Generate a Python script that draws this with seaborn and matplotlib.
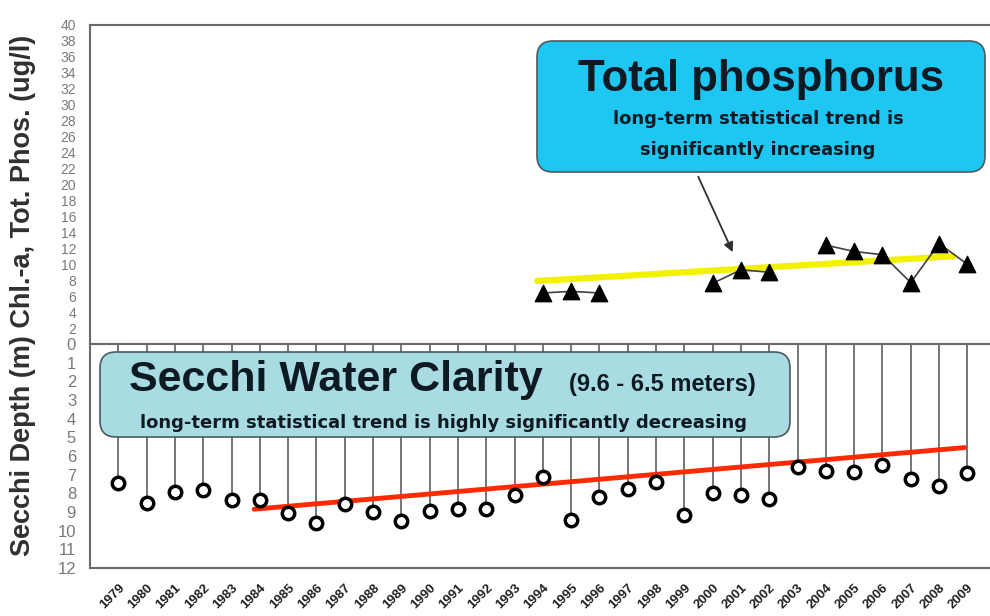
import numpy as np
import pandas as pd
import matplotlib.pyplot as plt
import seaborn as sns
from matplotlib.patches import FancyBboxPatch
from matplotlib.transforms import IdentityTransform

sns.set_style('white')
plt.rcParams['font.family'] = ['Liberation Sans', 'DejaVu Sans']

# total phosphorus (ug/l), segments are the connected runs
tp_years = [1994, 1995, 1996, 2000, 2001, 2002, 2004, 2005, 2006, 2007, 2008, 2009]
tp_values = [6.4, 6.6, 6.4, 7.6, 9.3, 9.0, 12.4, 11.6, 11.2, 7.7, 12.6, 10.0]
tp_segment = [1, 1, 1, 2, 2, 2, 3, 3, 3, 3, 3, 3]
tp_trend_years = [1993.8, 2008.5]
tp_trend_values = [7.9, 11.0]

# secchi depth (m)
secchi_years = list(range(1979, 2010))
secchi_depth = [7.45, 8.5, 7.95, 7.8, 8.35, 8.35, 9.05, 9.6, 8.55, 9.0,
                9.5, 8.95, 8.85, 8.85, 8.1, 7.15, 9.45, 8.2, 7.75, 7.4,
                9.15, 8.0, 8.1, 8.3, 6.6, 6.8, 6.85, 6.5, 7.25, 7.6, 6.9]
secchi_trend_years = [1983.8, 2008.9]
secchi_trend_values = [8.85, 5.55]

tp = pd.DataFrame({'year': tp_years, 'tp': tp_values, 'seg': tp_segment})
sd = pd.DataFrame({'year': secchi_years, 'depth': secchi_depth})

W, H = 990, 616
fig = plt.figure(figsize=(W / 100, H / 100), dpi=100)
ax1 = fig.add_axes([90 / W, 1 - 344 / H, 900 / W, (344 - 25) / H])
ax2 = fig.add_axes([90 / W, 1 - 568 / H, 900 / W, (568 - 344) / H])

spine_col = '#6a6a6a'
tick_col = '#7a7a7a'
narrow = ['Liberation Sans Narrow', 'Liberation Sans', 'DejaVu Sans']
xlim = (1978.0, 2009.8)

# --- top panel: total phosphorus
ax1.plot(tp_trend_years, tp_trend_values, color='#f2f200', lw=4.5, zorder=2)
sns.lineplot(data=tp, x='year', y='tp', units='seg', estimator=None,
             color='#404040', lw=1.2, ax=ax1, zorder=3)
sns.scatterplot(data=tp, x='year', y='tp', marker='^', s=140, color='black',
                edgecolor='black', ax=ax1, zorder=4)
ax1.annotate('', xy=(2000.75, 11.2), xytext=(1999.45, 21.3),
             arrowprops=dict(arrowstyle='-|>', color='#303030', lw=1.3,
                             mutation_scale=14))
ax1.set_xlim(*xlim)
ax1.set_ylim(0, 40)
ax1.set_yticks(range(0, 41, 2))
# the 0 of this panel sits on the 0 of the depth panel
ax1.set_yticklabels([''] + [str(v) for v in range(2, 41, 2)])
ax1.set_xticks([])
ax1.set_xlabel('')
ax1.set_ylabel('')

# --- bottom panel: secchi depth
ax2.vlines(sd['year'], 0, sd['depth'], color='#505050', lw=1.1, zorder=1)
ax2.plot(secchi_trend_years, secchi_trend_values, color='#ff2a00', lw=3.5, zorder=2)
sns.scatterplot(data=sd, x='year', y='depth', marker='o', s=80, color='white',
                edgecolor='black', linewidth=2.5, ax=ax2, zorder=4)
ax2.set_xlim(*xlim)
ax2.set_ylim(12, 0)
ax2.set_yticks(range(0, 13))
ax2.set_xticks(secchi_years)
ax2.set_xticklabels([str(y) for y in secchi_years], rotation=45, ha='right',
                    rotation_mode='anchor', fontsize=9.5, fontweight='bold',
                    color='#202020', family=narrow)
ax2.set_xlabel('')
ax2.set_ylabel('')

for ax in (ax1, ax2):
    for s in ('left', 'top', 'bottom'):
        ax.spines[s].set_color(spine_col)
        ax.spines[s].set_linewidth(1.5)
    ax.spines['right'].set_visible(False)
    ax.tick_params(axis='y', direction='out', length=9, width=1.2,
                   color=spine_col, labelcolor=tick_col, pad=1)
    for lab in ax.get_yticklabels():
        lab.set_family(narrow)
ax1.tick_params(axis='y', labelsize=10)
ax2.tick_params(axis='y', labelsize=12)
ax2.tick_params(axis='x', direction='out', length=7, width=1.2,
                color=spine_col, pad=3)

fig.text(23 / W, 1 - 295 / H, 'Secchi Depth (m) Chl.-a, Tot. Phos. (ug/l)',
         rotation=90, ha='center', va='center', fontsize=19.5,
         fontweight='bold', color='#303030')


def box(x0, y0, x1, y1, face):
    p = FancyBboxPatch((x0, H - y1), x1 - x0, y1 - y0,
                       boxstyle='round,pad=0,rounding_size=16',
                       transform=IdentityTransform(), facecolor=face,
                       edgecolor='#4a5a60', lw=1.2, zorder=5)
    fig.add_artist(p)


def txt(x, y, s, size, **kw):
    fig.text(x / W, 1 - y / H, s, fontsize=size, fontweight='bold',
             color='#0d1a24', ha='center', va='center', zorder=6, **kw)


box(537, 41, 985, 172, '#1ec6f2')
txt(761, 80, 'Total phosphorus', 31.5)
txt(758, 119, 'long-term statistical trend is', 13, family='DejaVu Sans')
txt(758, 150, 'significantly increasing', 13, family='DejaVu Sans')

box(100, 352, 790, 437, '#a8dce2')
txt(336, 380, 'Secchi Water Clarity', 31)
txt(662, 384, '(9.6 - 6.5 meters)', 17, family=narrow)
txt(443, 423, 'long-term statistical trend is highly significantly decreasing',
    13, family='DejaVu Sans')

fig.savefig('out.png', dpi=100)
